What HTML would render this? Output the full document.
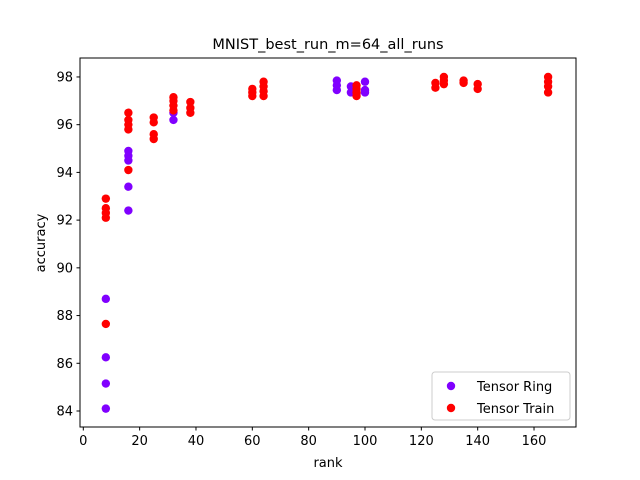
<!DOCTYPE html>
<html><head><meta charset="utf-8"><style>
body{margin:0;background:#fff}
svg{display:block;font-family:"DejaVu Sans","Liberation Sans",sans-serif}
</style></head><body>
<svg id="chart" width="640" height="480">
<rect width="640" height="480" fill="#fff"/>
<text x="328" y="49" text-anchor="middle" font-size="14.5">MNIST_best_run_m=64_all_runs</text>
<g id="plot"></g>
<rect x="80" y="58" width="496" height="369" fill="none" stroke="#000" stroke-width="1"/>
<text x="328" y="467" text-anchor="middle" font-size="13">rank</text>
<text transform="translate(45,243) rotate(-90)" text-anchor="middle" font-size="13">accuracy</text>
<g>
<rect x="432" y="372" width="138" height="48" rx="3" fill="#fff" stroke="#ccc" stroke-width="1"/>
<circle cx="451" cy="386" r="4.2" fill="#8000ff"/>
<text x="477" y="391" font-size="13">Tensor Ring</text>
<circle cx="451" cy="408" r="4.2" fill="#ff0000"/>
<text x="477" y="413" font-size="13">Tensor Train</text>
</g>
</svg>
<script>
const xTicks=[0,20,40,60,80,100,120,140,160];
const yTicks=[84,86,88,90,92,94,96,98];
const ringRanks=[8,8,8,8,16,16,16,16,16,32,32,90,90,90,95,95,97,100,100,100];
const ringAcc=[84.1,85.15,86.25,88.7,92.4,93.4,94.5,94.7,94.9,96.2,96.5,97.45,97.65,97.85,97.35,97.6,97.3,97.35,97.45,97.8];
const trainRanks=[8,8,8,8,8,16,16,16,16,16,25,25,25,25,32,32,32,32,38,38,38,60,60,60,64,64,64,64,97,97,97,97,125,125,128,128,128,135,135,140,140,165,165,165,165];
const trainAcc=[87.65,92.1,92.3,92.5,92.9,94.1,95.8,96.0,96.2,96.5,95.4,95.6,96.1,96.3,96.6,96.8,97.0,97.15,96.5,96.7,96.95,97.2,97.35,97.5,97.2,97.4,97.6,97.8,97.2,97.35,97.5,97.65,97.55,97.75,97.7,97.85,98.0,97.75,97.85,97.5,97.7,97.35,97.6,97.8,98.0];
const NS="http://www.w3.org/2000/svg";
const xs=r=>83.3+r*2.817;
const ys=v=>411-(v-84)*23.86;
const g=document.getElementById('plot');
function mk(t,a){const e=document.createElementNS(NS,t);for(const k in a)e.setAttribute(k,a[k]);g.appendChild(e);return e;}
xTicks.forEach(t=>{
  const l=mk('line',{x1:xs(t),x2:xs(t),y1:427,y2:430.5,stroke:'#000'});
  
  
  const tx=mk('text',{x:xs(t),y:445,'text-anchor':'middle','font-size':'13'});
  tx.textContent=t;
  
  
});
yTicks.forEach(t=>{
  const l=mk('line',{x1:76.5,x2:80,y1:ys(t),y2:ys(t),stroke:'#000'});
  
  
  const tx=mk('text',{x:73,y:ys(t)+4.5,'text-anchor':'end','font-size':'13'});
  tx.textContent=t;
  
  
});
ringRanks.forEach((r,i)=>{
  const c=mk('circle',{cx:xs(r),cy:ys(ringAcc[i]),r:4.2,fill:'#8000ff'});
  
  
});
trainRanks.forEach((r,i)=>{
  const c=mk('circle',{cx:xs(r),cy:ys(trainAcc[i]),r:4.2,fill:'#ff0000'});
  
  
});
</script>
</body></html>
